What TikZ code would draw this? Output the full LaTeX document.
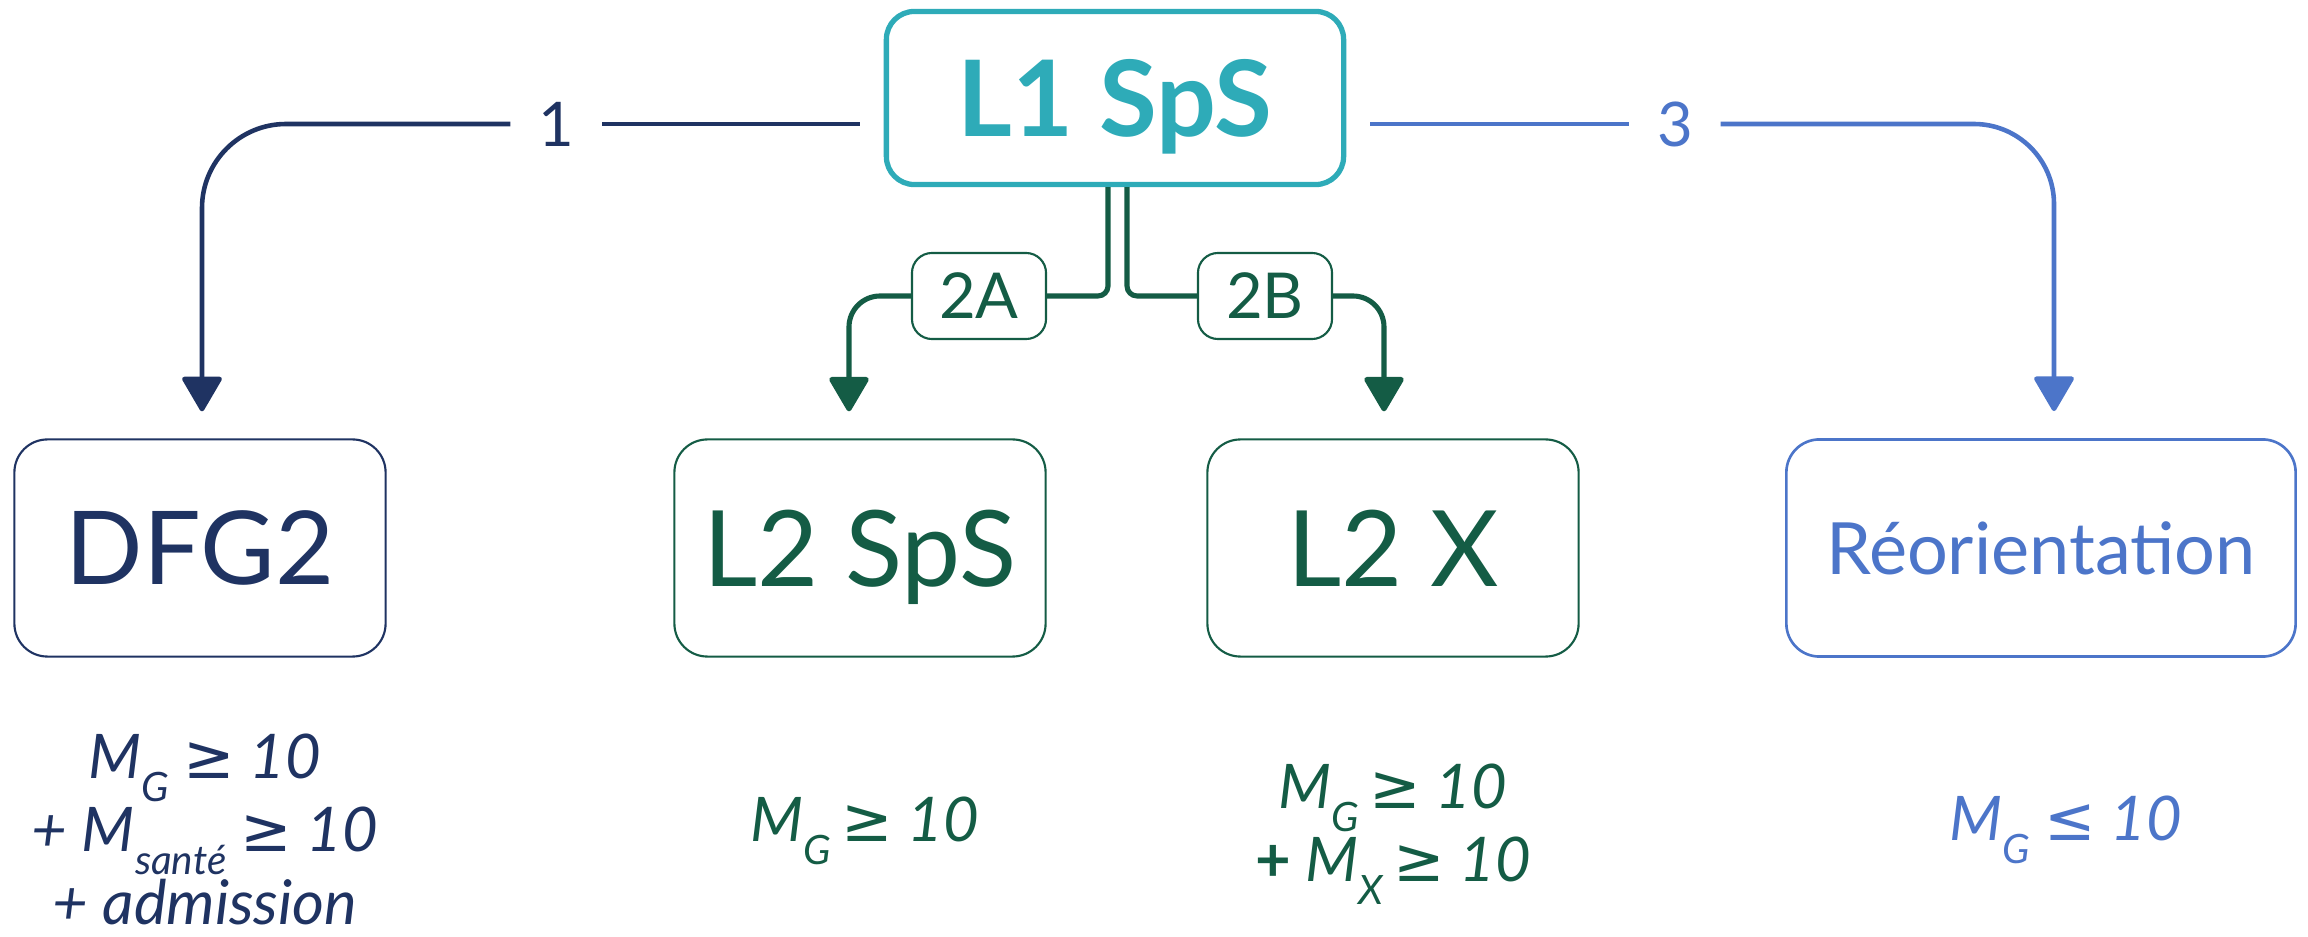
\documentclass[tikz,border=0pt]{standalone}
\usepackage{fontspec}
\setmainfont{Lato}
\newfontfamily\symfont{DejaVu Sans}
\usetikzlibrary{arrows.meta}
\definecolor{colnavy}{HTML}{1F3362}
\definecolor{colteal}{HTML}{2EABB8}
\definecolor{colgreen}{HTML}{145C45}
\definecolor{colblue}{HTML}{4C75C9}
\newcommand\lowidx[1]{\raisebox{-6.5pt}{\fontsize{11.5}{12}\selectfont #1}}
\newcommand\geqsym{{\symfont ≥}}
\newcommand\leqsym{{\symfont ≤}}
\tikzset{
  box/.style={draw, rounded corners=0.33cm, minimum width=3.71cm, minimum height=2.17cm,
    inner sep=0pt, text depth=0pt, font=\fontsize{29}{30}\selectfont},
  tagbox/.style={draw, rounded corners=0.2cm, minimum width=1.34cm, minimum height=0.86cm,
    inner sep=0pt, text depth=0pt, line width=0.6pt, fill=white, font=\fontsize{18}{20}\selectfont},
  numlabel/.style={minimum width=0.9cm, inner sep=0pt, text depth=0pt, font=\fontsize{17.5}{20}\selectfont},
  crit/.style={anchor=north, inner sep=0pt, align=center, font=\fontsize{17.5}{20.8}\selectfont\itshape},
  link/.style={line width=1.3pt},
  arrowhd/.style={-{Triangle[width=0.42cm,length=0.37cm,round]}, shorten >=0.27cm},
}

\begin{document}
\begin{tikzpicture}[x=0.01cm, y=-0.01cm]
  \useasboundingbox (0,0) rectangle (2308,937);
  % boxes
  \node[box, draw=colteal, text=colteal, line width=1.5pt, minimum width=4.57cm, minimum height=1.73cm,
    rounded corners=0.28cm, font=\fontsize{30}{32}\selectfont\bfseries] (l1) at (1115,98) {L1 SpS};
  \node[box, draw=colnavy, text=colnavy, line width=0.6pt] (dfg2) at (200,548) {DFG2};
  \node[box, draw=colgreen, text=colgreen, line width=0.6pt, font=\fontsize{30}{32}\selectfont] (l2sps) at (860,548) {L2 SpS};
  \node[box, draw=colgreen, text=colgreen, line width=0.6pt, font=\fontsize{30}{32}\selectfont] (l2x) at (1393,548) {L2 X};
  \node[box, draw=colblue, text=colblue, line width=0.75pt, minimum width=5.09cm,
    font=\fontsize{20.5}{22}\selectfont] (reor) at (2041,548) {Réorientation};

  % path labels
  \node[tagbox, draw=colgreen, text=colgreen] (t2a) at (979,296) {2A};
  \node[tagbox, draw=colgreen, text=colgreen] (t2b) at (1265,296) {2B};
  \node[numlabel, text=colnavy] (n1) at (556,124) {1};
  \node[numlabel, text=colblue] (n3) at (1675,124) {3};

  % paths
  \draw[link, colnavy, shorten <=0.24cm] (l1.west |- n1) -- (n1);
  \draw[link, colnavy, arrowhd, rounded corners=0.84cm] (n1) -| ([xshift=0.02cm]dfg2.north);
  \draw[link, colblue, shorten <=0.24cm] (l1.east |- n3) -- (n3);
  \draw[link, colblue, arrowhd, rounded corners=0.8cm] (n3) -| ([xshift=0.13cm]reor.north);
  \draw[link, colgreen, line width=1.45pt, rounded corners=0.1cm] ([xshift=-0.07cm]l1.south) |- (t2a);
  \draw[link, colgreen, line width=1.45pt, arrowhd, rounded corners=0.31cm] (t2a) -| ([xshift=-0.11cm]l2sps.north);
  \draw[link, colgreen, line width=1.45pt, rounded corners=0.1cm] ([xshift=0.12cm]l1.south) |- (t2b);
  \draw[link, colgreen, line width=1.45pt, arrowhd, rounded corners=0.31cm] (t2b) -| ([xshift=-0.09cm]l2x.north);

  % conditions
  \node[crit, text=colnavy] (c1) at (205,733) {M\lowidx{G} \geqsym{} 10\\+ M\lowidx{santé} \geqsym{} 10\\+ admission};
  \node[crit, text=colgreen] (c2) at (865,796) {M\lowidx{G}\,\geqsym{} 10};
  \node[crit, text=colgreen] (c3) at (1393,763) {M\lowidx{G}\,\geqsym{} 10\\\textbf{\upshape +} M\lowidx{X}\,\geqsym{} 10};
  \node[crit, text=colblue] (c4) at (2066,795) {M\lowidx{G} \leqsym{} 10};
\end{tikzpicture}
\end{document}
